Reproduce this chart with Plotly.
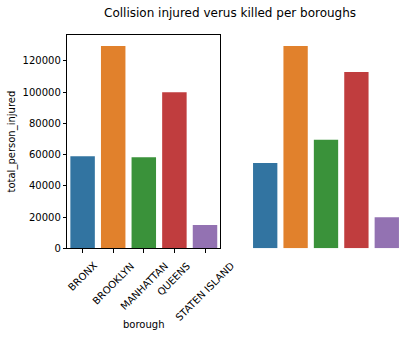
import plotly.graph_objects as go

boroughs = ["BRONX", "BROOKLYN", "MANHATTAN", "QUEENS", "STATEN ISLAND"]
injured = [58900, 129500, 58300, 99800, 14900]
right_values = [54500, 129500, 69500, 112800, 19900]
colors = ["#3274a1", "#e1812c", "#3a923a", "#c03d3e", "#9372b2"]
y_ticks = [0, 20000, 40000, 60000, 80000, 100000, 120000]

W, H = 409, 343
FONT = "DejaVu Sans"
ymax = 136700

fig = go.Figure()
fig.add_trace(go.Bar(x=boroughs, y=injured, marker_color=colors, marker_line_width=0,
                     width=0.8, xaxis="x", yaxis="y", showlegend=False))
fig.add_trace(go.Bar(x=boroughs, y=right_values, marker_color=colors, marker_line_width=0,
                     width=0.8, xaxis="x2", yaxis="y2", showlegend=False))

def px_x(p):
    return p / W

def px_y(p):
    return 1 - p / H

annotations = []
for b in boroughs:
    annotations.append(dict(x=b, xref="x", y=px_y(262), yref="paper", text=b,
                            textangle=-45, xanchor="center", yanchor="top",
                            showarrow=False, font=dict(family=FONT, size=10, color="black")))
annotations.append(dict(x=px_x(143.5), xref="paper", y=px_y(330), yref="paper", text="borough",
                        xanchor="center", yanchor="middle", showarrow=False,
                        font=dict(family=FONT, size=10, color="black")))
annotations.append(dict(x=px_x(12), xref="paper", y=px_y(144), yref="paper",
                        text="total_person_injured", textangle=-90,
                        xanchor="center", yanchor="middle", showarrow=False,
                        font=dict(family=FONT, size=10, color="black")))
annotations.append(dict(x=px_x(229.5), xref="paper", y=px_y(13), yref="paper",
                        text="Collision injured verus killed per boroughs",
                        xanchor="center", yanchor="middle", showarrow=False,
                        font=dict(family=FONT, size=12, color="black")))

fig.update_layout(
    width=W, height=H,
    margin=dict(l=0, r=0, t=0, b=0),
    paper_bgcolor="white", plot_bgcolor="white",
    bargap=0.2,
    font=dict(family=FONT, size=10, color="black"),
    xaxis=dict(domain=[px_x(67.3), px_x(220.3)], type="category", range=[-0.5, 4.5],
               showline=True, mirror=True, linecolor="black", linewidth=1,
               ticks="outside", ticklen=3.5, tickwidth=1, tickcolor="black",
               showticklabels=False, showgrid=False, zeroline=False, fixedrange=True),
    yaxis=dict(domain=[px_y(252.7), px_y(35.3)], range=[0, ymax],
               tickvals=y_ticks, ticktext=[str(v) for v in y_ticks],
               showline=True, mirror=True, linecolor="black", linewidth=1,
               ticks="outside", ticklen=3.5, tickwidth=1, tickcolor="black",
               tickfont=dict(family=FONT, size=10, color="black"),
               showgrid=False, zeroline=False),
    xaxis2=dict(domain=[px_x(250), px_x(402)], type="category", range=[-0.5, 4.5],
                anchor="y2", visible=False),
    yaxis2=dict(domain=[px_y(252.7), px_y(35.3)], range=[0, ymax], anchor="x2",
                visible=False),
    annotations=annotations,
)

fig.write_html("out.html")
